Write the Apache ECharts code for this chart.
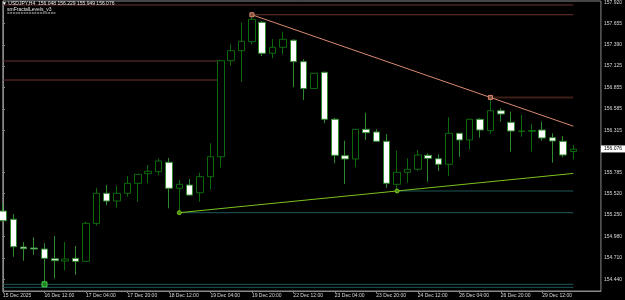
<!DOCTYPE html>
<html><head><meta charset="utf-8">
<script src="https://cdn.jsdelivr.net/npm/echarts@6.0.0/dist/echarts.min.js"></script>
<style>html,body{margin:0;padding:0;background:#000}#c{width:625px;height:300px}</style>
</head><body><div id="c"></div>
<script>
// ---- data (USDJPY H4) ----
const barIndex = [0,1,2,3,4,5,6,7,8,9,10,11,12,13,14,15,16,17,18,19,20,21,22,23,24,25,26,27,28,29,30,31,32,33,34,35,36,37,38,39,40,41,42,43,44,45,46,47,48,49,50,51,52,53,54,55];
const opens  = [155.299,155.195,154.846,154.834,154.821,154.699,154.670,154.704,154.666,155.144,155.522,155.425,155.522,155.648,155.769,155.794,155.912,155.585,155.626,155.529,155.731,155.982,157.190,157.316,157.429,157.673,157.283,157.359,157.447,157.178,156.841,157.044,156.453,155.995,155.954,156.327,156.293,156.176,155.635,155.786,155.824,156.000,155.957,155.887,156.277,156.193,156.453,156.310,156.561,156.415,156.300,156.302,156.318,156.222,156.176,156.048];
const closes = [155.177,154.850,154.825,154.821,154.704,154.674,154.695,154.666,155.144,155.522,155.425,155.522,155.648,155.761,155.799,155.928,155.585,155.635,155.500,155.731,155.982,157.190,157.316,157.434,157.711,157.283,157.359,157.460,157.178,156.841,157.032,156.453,156.000,155.954,156.327,156.284,156.176,155.648,155.786,155.824,156.004,155.962,155.887,156.277,156.193,156.453,156.318,156.561,156.520,156.306,156.306,156.312,156.218,156.180,156.004,156.076];
const lows   = [155.173,154.724,154.674,154.749,154.393,154.452,154.553,154.498,154.658,155.114,155.371,155.341,155.479,155.416,155.648,155.752,155.333,155.278,155.494,155.416,155.572,155.844,157.127,156.926,157.397,157.249,157.221,157.271,156.856,156.696,156.838,156.403,155.899,155.639,155.849,156.193,156.174,155.592,155.551,155.655,155.806,155.668,155.803,155.740,155.982,156.076,156.222,156.268,156.423,156.045,156.234,156.045,156.184,155.907,155.975,155.949];
const highs  = [155.400,155.261,154.909,154.968,154.893,154.985,154.909,154.859,155.165,155.592,155.626,155.618,155.740,155.765,155.878,155.960,155.966,155.689,155.702,155.781,156.151,157.199,157.397,157.668,157.768,157.690,157.463,157.555,157.460,157.208,157.036,157.052,156.469,156.184,156.331,156.536,156.327,156.268,156.058,155.962,156.067,156.025,156.013,156.478,156.281,156.457,156.466,156.728,156.591,156.549,156.507,156.394,156.423,156.277,156.243,156.130];

const timeTickIndex  = [0,4,8,12,16,20,24,28,32,36,40,44,48,52];
const timeTickLabels = ['15 Dec 2025','16 Dec 12:00','17 Dec 04:00','17 Dec 20:00','18 Dec 12:00','19 Dec 04:00','19 Dec 20:00','22 Dec 12:00','23 Dec 04:00','23 Dec 20:00','24 Dec 12:00','26 Dec 04:00','26 Dec 20:00','29 Dec 12:00'];
const priceTicks = [157.920,157.655,157.390,157.125,156.855,156.585,156.315,155.785,155.520,155.250,154.980,154.710,154.440];
const lastPrice = 156.076;

// trend lines: [barIndex, price]
const resistanceLine = [[24,157.768],[47,156.728],[55,156.366]];
const supportLine    = [[17,155.278],[38,155.551],[55,155.772]];
// fractal levels: [price, fromBar, toBar]
const redLevels   = [[157.891,0,55],[157.768,24,55],[157.186,0,21],[156.947,0,21]];
const brownLevels = [[156.728,47,55]];
const tealLevels  = [[155.551,38,55],[155.278,17,55],[154.377,0,55],[154.339,0,55]];
const lowMarker   = [[4,154.377]];

// ---- chart ----
const FONT = 'Liberation Sans';
const chart = echarts.init(document.getElementById('c'), null, {renderer:'canvas'});

const candleData = barIndex.map((x,i)=>[x, opens[i], closes[i], lows[i], highs[i]]);

function levelSeries(list, color, width){
  return list.map(l => ({
    type:'line', silent:true, symbol:'none', animation:false, z:1,
    lineStyle:{color:color, width:width},
    data:[[l[1], l[0]], [l[2], l[0]]]
  }));
}
function trendSeries(pts, color, markSymbol, markColor){
  return {
    type:'line', silent:true, animation:false, z:5,
    lineStyle:{color:color, width:1},
    itemStyle:{color:markColor, borderColor:color, borderWidth:1},
    data: pts.map((p,i)=>({value:p, symbol: i<2 ? markSymbol : 'none', symbolSize:4}))
  };
}

const option = {
  backgroundColor:'#000',
  animation:false,
  title:[
    {text:'▼ USDJPY,H4  156.048 156.229 155.949 156.076', left:2, top:1, padding:0,
     textStyle:{color:'#e6e6e6', fontSize:5, fontWeight:'normal', fontFamily:FONT}},
    {text:'smFractalLevels_v3', left:7, top:7, padding:0,
     textStyle:{color:'#e6e6e6', fontSize:5, fontWeight:'normal', fontFamily:FONT}},
    {text:'▪▪▪▪▪▪▪▪▪▪▪▪▪▪▪▪▪▪', left:7, top:11, padding:0,
     textStyle:{color:'#6a6a6a', fontSize:4, fontWeight:'normal', fontFamily:'DejaVu Sans'}}
  ],
  grid:{left:1, right:23, top:1, bottom:9, show:true, borderColor:'#8a8a8a', borderWidth:1, backgroundColor:'transparent'},
  xAxis:{
    type:'value', min:-0.02, max:57.66,
    axisLine:{show:true, lineStyle:{color:'#8a8a8a'}},
    splitLine:{show:false},
    axisTick:{show:true, customValues:timeTickIndex, length:2, lineStyle:{color:'#8a8a8a'}},
    axisLabel:{customValues:timeTickIndex, align:'left', margin:2, color:'#d8d8d8', fontSize:5, fontFamily:FONT,
      formatter:(v)=>{const k=timeTickIndex.indexOf(Math.round(v)); return k>=0?timeTickLabels[k]:'';}}
  },
  yAxis:{
    type:'value', position:'right', min:154.293, max:157.941, scale:true,
    axisLine:{show:true, lineStyle:{color:'#8a8a8a'}},
    splitLine:{show:false},
    axisTick:{show:true, customValues:priceTicks, length:2, lineStyle:{color:'#8a8a8a'}},
    axisLabel:{customValues:priceTicks, margin:3, color:'#d8d8d8', fontSize:5, fontFamily:FONT,
      formatter:(v)=>v.toFixed(3)}
  },
  series:[
    ...levelSeries(redLevels, '#6e3232', 1),
    ...levelSeries(brownLevels, '#3e1e16', 2),
    ...levelSeries(tealLevels, '#1d5858', 1),
    {
      type:'candlestick', z:3, barWidth:7, animation:false,
      itemStyle:{color:'#000000', borderColor:'#0c6a0c', color0:'#ffffff', borderColor0:'#2f8a2f', borderWidth:1},
      data:candleData,
      markLine:{
        silent:true, symbol:'none', animation:false,
        lineStyle:{width:0, color:'rgba(0,0,0,0)', type:'solid'},
        label:{show:true, position:'end', distance:0, formatter:()=>lastPrice.toFixed(3), opacity:1,
          color:'#000', backgroundColor:'#ffffff', fontSize:5, fontFamily:FONT, padding:[1,3,1,3]},
        emphasis:{disabled:true},
        data:[{yAxis:lastPrice}]
      }
    },
    trendSeries(resistanceLine, '#d98a70', 'rect', '#7a4a3c'),
    trendSeries(supportLine, '#7cc31e', 'circle', '#4c8a14'),
    {type:'scatter', z:6, symbol:'rect', symbolSize:5, animation:false,
     itemStyle:{color:'#1f9a1f', borderColor:'#55ee55', borderWidth:1},
     data:lowMarker}
  ]
};
chart.setOption(option);
</script>
</body></html>
